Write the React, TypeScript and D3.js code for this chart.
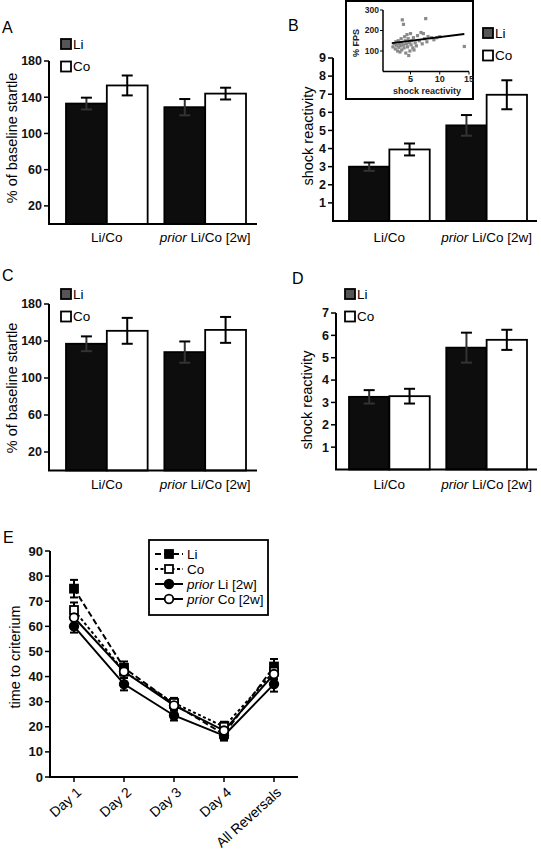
import React from 'react';
import * as d3 from 'd3';

// ---------- DATA ----------
const groups = ['Li/Co', 'prior Li/Co [2w]'];
const seriesNames = ['Li', 'Co'];

// Panel A: % of baseline startle
const aLi = [133, 129];
const aCo = [153, 144];
const aLiErr = [6.5, 9];
const aCoErr = [11, 6.5];
const startleTicks = [20, 60, 100, 140, 180];

// Panel B: shock reactivity
const bLi = [3.0, 5.28];
const bCo = [3.95, 6.97];
const bLiErr = [0.23, 0.57];
const bCoErr = [0.33, 0.8];
const bTicks = [1, 2, 3, 4, 5, 6, 7, 8, 9];

// Panel B inset scatter (shock reactivity, % FPS)
const insetX = [2.0, 2.2, 2.4, 2.5, 2.6, 2.8, 2.9, 3.0, 3.1, 3.2, 3.3, 3.4, 3.5, 3.5, 3.6, 3.8, 3.8, 3.9, 4.0, 4.1, 4.2, 4.3, 4.4, 4.5, 4.6, 4.7, 4.8, 4.9, 5.0, 5.1, 5.2, 5.4, 5.5, 5.6, 5.8, 6.0, 6.2, 6.5, 6.8, 7.0, 7.2, 7.4, 7.6, 7.8, 8.0, 8.6, 9.0, 9.5, 10.0, 14.2];
const insetY = [120, 135, 110, 145, 128, 100, 150, 118, 135, 95, 125, 160, 140, 105, 252, 230, 130, 115, 170, 150, 90, 135, 180, 120, 160, 78, 140, 100, 185, 130, 150, 115, 165, 105, 140, 125, 175, 150, 190, 135, 185, 160, 258, 145, 170, 165, 155, 165, 170, 122];
const regX = [1.8, 14.2];
const regY = [138, 183];
const insetXTicks = [5, 10, 15];
const insetYTicks = [100, 200, 300];

// Panel C
const cLi = [137, 128];
const cCo = [151, 152];
const cLiErr = [8, 11.5];
const cCoErr = [14, 14];

// Panel D
const dLi = [3.25, 5.45];
const dCo = [3.28, 5.8];
const dLiErr = [0.3, 0.67];
const dCoErr = [0.33, 0.45];
const dTicks = [1, 2, 3, 4, 5, 6, 7];

// Panel E: time to criterium
const days = ['Day 1', 'Day 2', 'Day 3', 'Day 4', 'All Reversals'];
const eNames = ['Li', 'Co', 'prior Li [2w]', 'prior Co [2w]'];
const eLi = [75, 43.5, 29, 17, 44];
const eCo = [66.5, 42, 29.5, 20, 42];
const ePriorLi = [60, 37, 24.5, 16.5, 37];
const ePriorCo = [63.5, 42, 28.5, 18.5, 41];
const eLiErr = [3.5, 2.5, 2, 2, 3];
const eCoErr = [3, 2.5, 2, 2, 3];
const ePriorLiErr = [2.5, 2.5, 2, 2, 3];
const ePriorCoErr = [2.5, 2.5, 2, 2, 3];
const eTicks = [0, 10, 20, 30, 40, 50, 60, 70, 80, 90];

const FONT = 'Arial, "Liberation Sans", Helvetica, sans-serif';

function GroupLabel({ text, x, y }: { text: string; x: number; y: number }) {
  const isPrior = text.startsWith('prior ');
  return (
    <text x={x} y={y} textAnchor="middle" fontSize={13.5} fontFamily={FONT}>
      {isPrior ? (
        <>
          <tspan fontStyle="italic">prior</tspan>
          <tspan>{' ' + text.slice(6)}</tspan>
        </>
      ) : (
        text
      )}
    </text>
  );
}

type BarPanelProps = {
  letter: string;
  letterPos: [number, number];
  yMax: number;
  yRange: [number, number];
  ticks: number[];
  axisX: number;
  xEnd: number;
  bandRange: [number, number];
  li: number[];
  co: number[];
  liErr: number[];
  coErr: number[];
  yTitle: string;
  yTitlePos: [number, number];
  legendPos: [number, number];
  labelY: number;
};

function BarPanel(p: BarPanelProps) {
  const y = d3.scaleLinear().domain([0, p.yMax]).range(p.yRange);
  const gx = d3.scaleBand<string>().domain(groups).range(p.bandRange).paddingInner(0.17).paddingOuter(0);
  const sx = d3.scaleBand<string>().domain(seriesNames).range([0, gx.bandwidth()]).padding(0);
  const base = y(0);
  const vals: Record<string, number[]> = { Li: p.li, Co: p.co };
  const errs: Record<string, number[]> = { Li: p.liErr, Co: p.coErr };
  return (
    <g fontFamily={FONT}>
      <text x={p.letterPos[0]} y={p.letterPos[1]} fontSize={16} fontFamily={FONT}>{p.letter}</text>
      {groups.map((g, gi) =>
        seriesNames.map((s) => {
          const x0 = (gx(g) as number) + (sx(s) as number);
          const v = vals[s][gi];
          const e = errs[s][gi];
          const cx = x0 + sx.bandwidth() / 2;
          return (
            <g key={g + s}>
              <rect
                x={x0}
                y={y(v)}
                width={sx.bandwidth()}
                height={base - y(v)}
                fill={s === 'Li' ? '#0d0d0d' : '#fff'}
                stroke="#000"
                strokeWidth={1.8}
              />
              <line x1={cx} x2={cx} y1={y(v + e)} y2={y(v - e)} stroke={s === 'Li' ? '#333' : '#000'} strokeWidth={2} />
              <line x1={cx - 5.5} x2={cx + 5.5} y1={y(v + e)} y2={y(v + e)} stroke="#000" strokeWidth={2} />
              <line x1={cx - 5.5} x2={cx + 5.5} y1={y(v - e)} y2={y(v - e)} stroke={s === 'Li' ? '#333' : '#000'} strokeWidth={2} />
            </g>
          );
        })
      )}
      {/* axes */}
      <line x1={p.axisX} x2={p.axisX} y1={base} y2={y(p.yMax)} stroke="#000" strokeWidth={2} />
      <line x1={p.axisX - 1} x2={p.xEnd} y1={base} y2={base} stroke="#000" strokeWidth={2} />
      {p.ticks.map((t) => (
        <g key={t}>
          <line x1={p.axisX - 5} x2={p.axisX} y1={y(t)} y2={y(t)} stroke="#000" strokeWidth={1.5} />
          <text x={p.axisX - 7} y={y(t)} dy="0.35em" textAnchor="end" fontSize={12.5} fontWeight="bold" fill="#111">
            {t}
          </text>
        </g>
      ))}
      <text
        transform={`translate(${p.yTitlePos[0]},${p.yTitlePos[1]}) rotate(-90)`}
        textAnchor="middle"
        dy="0.35em"
        fontSize={14.5}
      >
        {p.yTitle}
      </text>
      {groups.map((g) => (
        <GroupLabel key={g} text={g} x={(gx(g) as number) + gx.bandwidth() / 2} y={p.labelY} />
      ))}
      {/* legend */}
      {seriesNames.map((s, i) => (
        <g key={s} transform={`translate(${p.legendPos[0]},${p.legendPos[1] + i * 22.5})`}>
          <rect x={0} y={0} width={10} height={10} fill={s === 'Li' ? '#555' : '#fff'} stroke="#000" strokeWidth={1.8} />
          <text x={12} y={5} dy="0.35em" fontSize={13.5}>{s}</text>
        </g>
      ))}
    </g>
  );
}

function Inset() {
  const x = d3.scaleLinear().domain([0.3, 15]).range([383, 469]);
  const y = d3.scaleLinear().domain([0, 300]).range([71.5, 10]);
  const line = d3.line<number>().x((d) => x(d)).y((_, i) => y(regY[i]));
  return (
    <g fontFamily={FONT}>
      <rect x={346} y={1} width={127} height={98} fill="#fff" stroke="#000" strokeWidth={2} />
      {insetX.map((v, i) => (
        <rect key={i} x={x(v) - 1.6} y={y(insetY[i]) - 1.6} width={3.2} height={3.2} fill="#8a8a8a" />
      ))}
      <path d={line(regX) as string} stroke="#000" strokeWidth={1.8} fill="none" />
      <line x1={383} x2={383} y1={y(0)} y2={y(300)} stroke="#000" strokeWidth={1.5} />
      <line x1={383} x2={469} y1={y(0)} y2={y(0)} stroke="#000" strokeWidth={1.5} />
      {insetYTicks.map((t) => (
        <g key={t}>
          <line x1={380} x2={383} y1={y(t)} y2={y(t)} stroke="#000" strokeWidth={1} />
          <text x={379} y={y(t)} dy="0.35em" textAnchor="end" fontSize={8.5} fontWeight="bold" fill="#222">{t}</text>
        </g>
      ))}
      {insetXTicks.map((t) => (
        <g key={t}>
          <line x1={x(t)} x2={x(t)} y1={y(0)} y2={y(0) + 3} stroke="#000" strokeWidth={1} />
          <text x={x(t)} y={y(0) + 10} textAnchor="middle" fontSize={9} fontWeight="bold" fill="#222">{t}</text>
        </g>
      ))}
      <text x={427} y={94} textAnchor="middle" fontSize={9} fontWeight="bold" fill="#222">shock reactivity</text>
      <text transform="translate(359,43) rotate(-90)" textAnchor="middle" fontSize={9} fontWeight="bold" fill="#222">% FPS</text>
    </g>
  );
}

function PanelE() {
  const x = d3.scalePoint<string>().domain(days).range([50, 298]).padding(0.48);
  const y = d3.scaleLinear().domain([0, 90]).range([777, 551]);
  const sets = [
    { name: eNames[0], v: eLi, e: eLiErr, dash: '6,3', fill: '#000', shape: 'square' },
    { name: eNames[1], v: eCo, e: eCoErr, dash: '3,2.5', fill: '#fff', shape: 'square' },
    { name: eNames[2], v: ePriorLi, e: ePriorLiErr, dash: '', fill: '#000', shape: 'circle' },
    { name: eNames[3], v: ePriorCo, e: ePriorCoErr, dash: '', fill: '#fff', shape: 'circle' },
  ];
  const marker = (shape: string, fill: string, cx: number, cy: number, key: string) =>
    shape === 'square' ? (
      <rect key={key} x={cx - 4} y={cy - 4} width={8} height={8} fill={fill} stroke="#000" strokeWidth={1.8} />
    ) : (
      <circle key={key} cx={cx} cy={cy} r={4.3} fill={fill} stroke="#000" strokeWidth={1.8} />
    );
  const lineGen = d3.line<number>().x((_, i) => x(days[i]) as number).y((d) => y(d));
  return (
    <g fontFamily={FONT}>
      <text x={3} y={543} fontSize={16}>E</text>
      {sets.map((s) => (
        <g key={s.name}>
          {s.v.map((v, i) => {
            const cx = x(days[i]) as number;
            return (
              <g key={i}>
                <line x1={cx} x2={cx} y1={y(v + s.e[i])} y2={y(v - s.e[i])} stroke="#000" strokeWidth={2} />
                <line x1={cx - 4} x2={cx + 4} y1={y(v + s.e[i])} y2={y(v + s.e[i])} stroke="#000" strokeWidth={2} />
                <line x1={cx - 4} x2={cx + 4} y1={y(v - s.e[i])} y2={y(v - s.e[i])} stroke="#000" strokeWidth={2} />
              </g>
            );
          })}
          <path d={lineGen(s.v) as string} fill="none" stroke="#000" strokeWidth={2} strokeDasharray={s.dash || undefined} />
        </g>
      ))}
      {sets.map((s) => s.v.map((v, i) => marker(s.shape, s.fill, x(days[i]) as number, y(v), s.name + i)))}
      {/* axes */}
      <line x1={50} x2={50} y1={y(0)} y2={y(90)} stroke="#000" strokeWidth={2} />
      <line x1={49} x2={298} y1={y(0)} y2={y(0)} stroke="#000" strokeWidth={2} />
      {eTicks.map((t) => (
        <g key={t}>
          <line x1={45} x2={50} y1={y(t)} y2={y(t)} stroke="#000" strokeWidth={1.5} />
          <text x={43} y={y(t)} dy="0.35em" textAnchor="end" fontSize={13} fontWeight="bold" fill="#111">{t}</text>
        </g>
      ))}
      {days.map((d) => (
        <g key={d}>
          <line x1={x(d) as number} x2={x(d) as number} y1={y(0)} y2={y(0) + 5} stroke="#000" strokeWidth={1.5} />
          <text
            transform={`translate(${(x(d) as number) + 5},${y(0) + 13}) rotate(-42)`}
            textAnchor="end"
            dy="0.35em"
            fontSize={14}
          >
            {d}
          </text>
        </g>
      ))}
      <text transform="translate(15,657) rotate(-90)" textAnchor="middle" dy="0.35em" fontSize={14.5}>time to criterium</text>
      {/* legend */}
      <rect x={149} y={540} width={119} height={75} fill="#fff" stroke="#000" strokeWidth={1.8} />
      {sets.map((s, i) => {
        const ly = 554 + i * 15;
        const isPrior = s.name.startsWith('prior ');
        return (
          <g key={s.name}>
            <line x1={155} x2={183} y1={ly} y2={ly} stroke="#000" strokeWidth={2} strokeDasharray={s.dash || undefined} />
            {marker(s.shape, s.fill, 169, ly, 'lg' + i)}
            <text x={187} y={ly} dy="0.35em" fontSize={13.5}>
              {isPrior ? (
                <>
                  <tspan fontStyle="italic">prior</tspan>
                  <tspan>{' ' + s.name.slice(6)}</tspan>
                </>
              ) : (
                s.name
              )}
            </text>
          </g>
        );
      })}
    </g>
  );
}

export default function App() {
  return (
    <svg
      width={541}
      height={853}
      viewBox="0 0 541 853"
      style={{ position: 'absolute', left: 0, top: 0, background: '#fff' }}
    >
      <rect width={541} height={853} fill="#fff" />
      <BarPanel
        letter="A"
        letterPos={[2, 33]}
        yMax={180}
        yRange={[224, 61]}
        ticks={startleTicks}
        axisX={49}
        xEnd={257}
        bandRange={[66, 246]}
        li={aLi}
        co={aCo}
        liErr={aLiErr}
        coErr={aCoErr}
        yTitle="% of baseline startle"
        yTitlePos={[12, 138]}
        legendPos={[61, 39]}
        labelY={242}
      />
      <BarPanel
        letter="B"
        letterPos={[288, 31]}
        yMax={9}
        yRange={[221, 58]}
        ticks={bTicks}
        axisX={333}
        xEnd={537}
        bandRange={[349, 527]}
        li={bLi}
        co={bCo}
        liErr={bLiErr}
        coErr={bCoErr}
        yTitle="shock reactivity"
        yTitlePos={[308, 136]}
        legendPos={[483, 28]}
        labelY={242}
      />
      <Inset />
      <BarPanel
        letter="C"
        letterPos={[2, 281]}
        yMax={180}
        yRange={[470.5, 304]}
        ticks={startleTicks}
        axisX={49}
        xEnd={257}
        bandRange={[66, 246]}
        li={cLi}
        co={cCo}
        liErr={cLiErr}
        coErr={cCoErr}
        yTitle="% of baseline startle"
        yTitlePos={[12, 388]}
        legendPos={[61, 289]}
        labelY={489}
      />
      <BarPanel
        letter="D"
        letterPos={[292, 284]}
        yMax={7}
        yRange={[469.5, 313]}
        ticks={dTicks}
        axisX={336}
        xEnd={537}
        bandRange={[349, 527]}
        li={dLi}
        co={dCo}
        liErr={dLiErr}
        coErr={dCoErr}
        yTitle="shock reactivity"
        yTitlePos={[307, 400]}
        legendPos={[345, 289]}
        labelY={489}
      />
      <PanelE />
    </svg>
  );
}
